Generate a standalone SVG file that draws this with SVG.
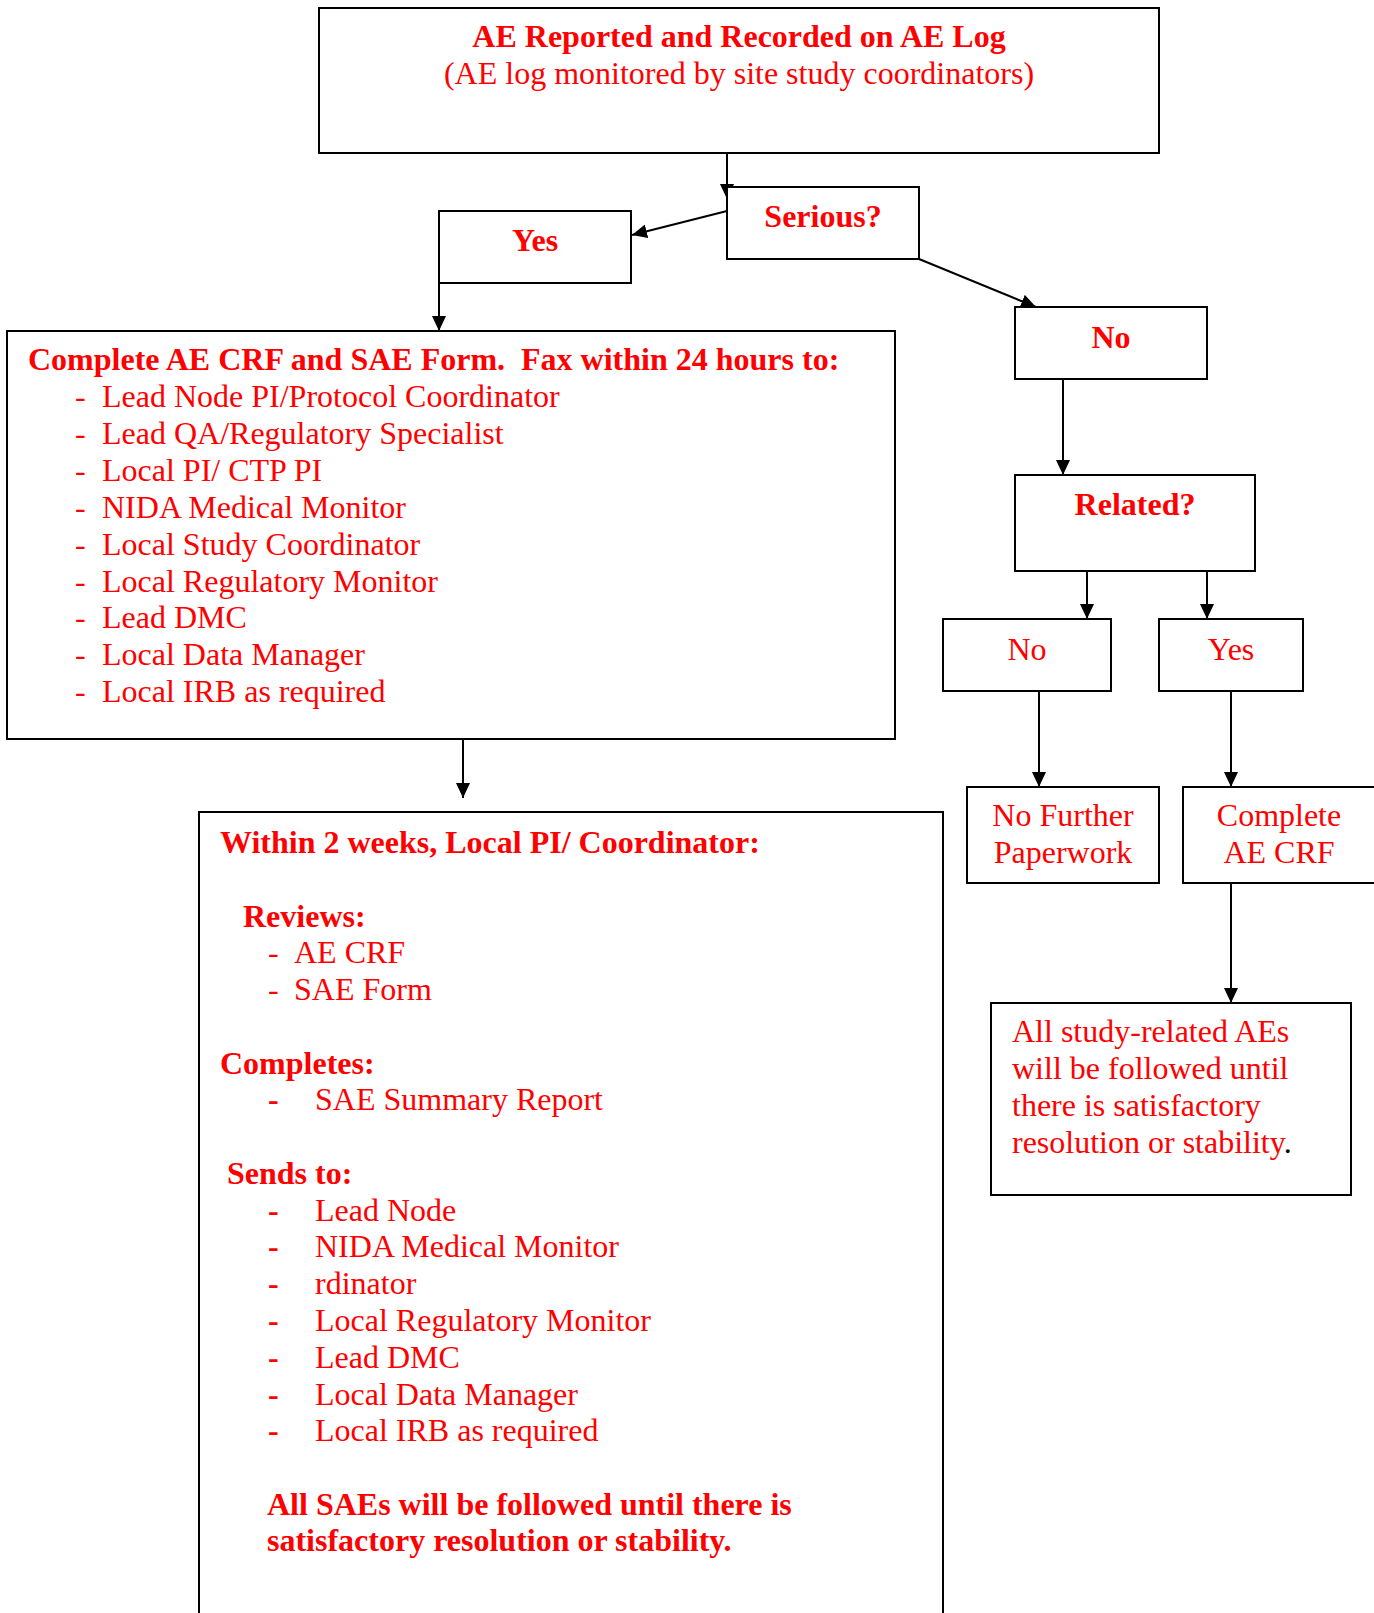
<svg xmlns="http://www.w3.org/2000/svg" width="1374" height="1613" viewBox="0 0 1374 1613">
<style>
  .box { fill: #ffffff; stroke: #000000; stroke-width: 2; }
  .t { font-family: "Liberation Serif", "Times New Roman", serif; font-size: 32px; fill: #ff0000; }
  .b { font-weight: bold; }
  .c { text-anchor: middle; }
  .k { fill: #000000; }
  .conn { stroke: #000000; stroke-width: 2; fill: none; marker-end: url(#arrow); }
</style>
<defs>
  <marker id="arrow" markerUnits="userSpaceOnUse" markerWidth="15" markerHeight="14" refX="15" refY="7" orient="auto">
    <path d="M0,0 L15,7 L0,14 z" fill="#000000"/>
  </marker>
</defs>
<rect x="0" y="0" width="1374" height="1613" fill="#ffffff"/>

<g id="connectors">
  <line class="conn" x1="727" y1="153" x2="727" y2="199"/>
  <line class="conn" x1="727" y1="211" x2="632" y2="235"/>
  <line class="conn" x1="919" y1="259" x2="1036" y2="307"/>
  <line class="conn" x1="439" y1="283" x2="439" y2="331"/>
  <line class="conn" x1="463" y1="739" x2="463" y2="798"/>
  <line class="conn" x1="1063" y1="379" x2="1063" y2="475"/>
  <line class="conn" x1="1087" y1="571" x2="1087" y2="619"/>
  <line class="conn" x1="1207" y1="571" x2="1207" y2="619"/>
  <line class="conn" x1="1039" y1="691" x2="1039" y2="787"/>
  <line class="conn" x1="1231" y1="691" x2="1231" y2="787"/>
  <line class="conn" x1="1231" y1="883" x2="1231" y2="1003"/>
</g>

<g id="node-ae-log">
  <rect class="box" x="319" y="8" width="840" height="145"/>
  <text class="t b c" x="739" y="47">AE Reported and Recorded on AE Log</text>
  <text class="t c" x="739" y="84">(AE log monitored by site study coordinators)</text>
</g>

<g id="node-serious">
  <rect class="box" x="727" y="187" width="192" height="72"/>
  <text class="t b c" x="823" y="227">Serious?</text>
</g>

<g id="node-yes">
  <rect class="box" x="439" y="211" width="192" height="72"/>
  <text class="t b c" x="535" y="251">Yes</text>
</g>

<g id="node-no">
  <rect class="box" x="1015" y="307" width="192" height="72"/>
  <text class="t b c" x="1111" y="348">No</text>
</g>

<g id="node-complete-sae">
  <rect class="box" x="7" y="331" width="888" height="408"/>
  <text class="t b" x="28" y="370" xml:space="preserve">Complete AE CRF and SAE Form.  Fax within 24 hours to:</text>
  <g class="t">
    <text x="75" y="407">-</text><text x="102" y="407">Lead Node PI/Protocol Coordinator</text>
    <text x="75" y="444">-</text><text x="102" y="444">Lead QA/Regulatory Specialist</text>
    <text x="75" y="481">-</text><text x="102" y="481">Local PI/ CTP PI</text>
    <text x="75" y="518">-</text><text x="102" y="518">NIDA Medical Monitor</text>
    <text x="75" y="555">-</text><text x="102" y="555">Local Study Coordinator</text>
    <text x="75" y="592">-</text><text x="102" y="592">Local Regulatory Monitor</text>
    <text x="75" y="628">-</text><text x="102" y="628">Lead DMC</text>
    <text x="75" y="665">-</text><text x="102" y="665">Local Data Manager</text>
    <text x="75" y="702">-</text><text x="102" y="702">Local IRB as required</text>
  </g>
</g>

<g id="node-within-2-weeks">
  <rect class="box" x="199" y="812" width="744" height="840"/>
  <text class="t b" x="220" y="853">Within 2 weeks, Local PI/ Coordinator:</text>
  <text class="t b" x="243" y="927">Reviews:</text>
  <text class="t" x="268" y="963">-</text><text class="t" x="294" y="963">AE CRF</text>
  <text class="t" x="268" y="1000">-</text><text class="t" x="294" y="1000">SAE Form</text>
  <text class="t b" x="220" y="1074">Completes:</text>
  <text class="t b" x="268" y="1110">-</text><text class="t" x="315" y="1110">SAE Summary Report</text>
  <text class="t b" x="227" y="1184">Sends to:</text>
  <text class="t b" x="268" y="1221">-</text><text class="t" x="315" y="1221">Lead Node</text>
  <text class="t b" x="268" y="1257">-</text><text class="t" x="315" y="1257">NIDA Medical Monitor</text>
  <text class="t b" x="268" y="1294">-</text><text class="t" x="315" y="1294">rdinator</text>
  <text class="t b" x="268" y="1331">-</text><text class="t" x="315" y="1331">Local Regulatory Monitor</text>
  <text class="t b" x="268" y="1368">-</text><text class="t" x="315" y="1368">Lead DMC</text>
  <text class="t b" x="268" y="1405">-</text><text class="t" x="315" y="1405">Local Data Manager</text>
  <text class="t b" x="268" y="1441">-</text><text class="t" x="315" y="1441">Local IRB as required</text>
  <text class="t b" x="267" y="1515">All SAEs will be followed until there is</text>
  <text class="t b" x="267" y="1551">satisfactory resolution or stability.</text>
</g>

<g id="node-related">
  <rect class="box" x="1015" y="475" width="240" height="96"/>
  <text class="t b c" x="1135" y="515">Related?</text>
</g>

<g id="node-related-no">
  <rect class="box" x="943" y="619" width="168" height="72"/>
  <text class="t c" x="1027" y="660">No</text>
</g>

<g id="node-related-yes">
  <rect class="box" x="1159" y="619" width="144" height="72"/>
  <text class="t c" x="1231" y="660">Yes</text>
</g>

<g id="node-no-further">
  <rect class="box" x="967" y="787" width="192" height="96"/>
  <text class="t c" x="1063" y="826">No Further</text>
  <text class="t c" x="1063" y="863">Paperwork</text>
</g>

<g id="node-complete-ae-crf">
  <rect class="box" x="1183" y="787" width="192" height="96"/>
  <text class="t c" x="1279" y="826">Complete</text>
  <text class="t c" x="1279" y="863">AE CRF</text>
</g>

<g id="node-study-related">
  <rect class="box" x="991" y="1003" width="360" height="192"/>
  <text class="t" x="1012" y="1042">All study-related AEs</text>
  <text class="t" x="1012" y="1079">will be followed until</text>
  <text class="t" x="1012" y="1116">there is satisfactory</text>
  <text class="t" x="1012" y="1153">resolution or stability<tspan class="k">.</tspan></text>
</g>
</svg>
